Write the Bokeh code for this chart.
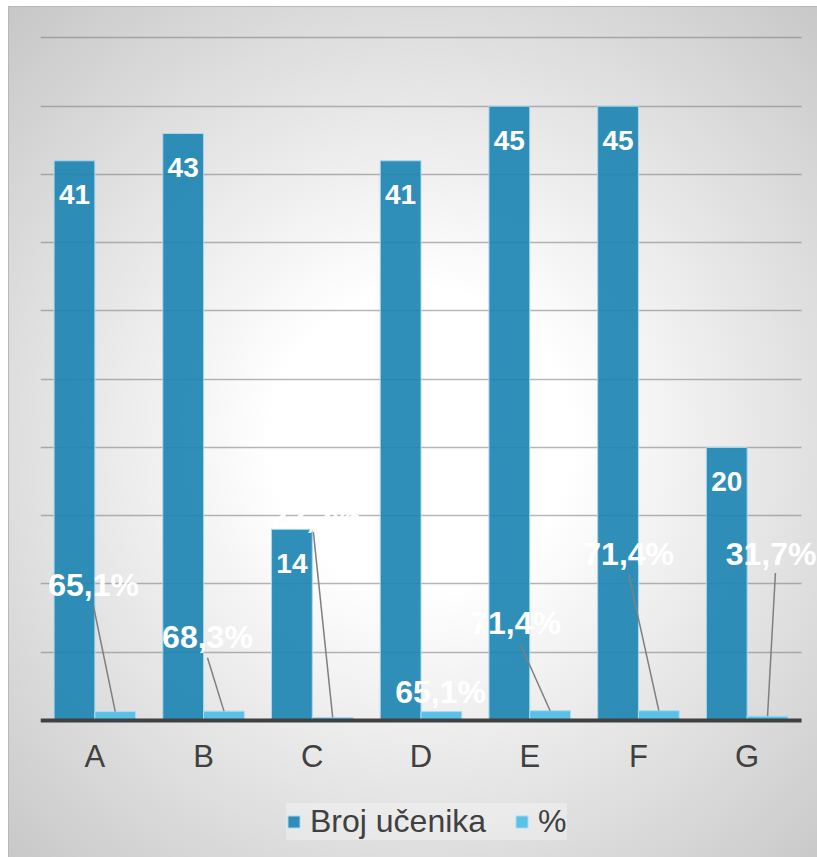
from bokeh.plotting import figure
from bokeh.models import (Range1d, FixedTicker, SingleIntervalTicker, ColumnDataSource,
                          Legend, LegendItem)
from bokeh.core.properties import value
from bokeh.transform import dodge
from bokeh.embed import file_html
from bokeh.resources import INLINE

# ---------------- data ----------------
categories = ["A", "B", "C", "D", "E", "F", "G"]
broj_ucenika = [41, 43, 14, 41, 45, 45, 20]
postotak = [0.651, 0.683, 0.222, 0.651, 0.714, 0.714, 0.317]
postotak_labels = ["65,1%", "68,3%", "22,2%", "65,1%", "71,4%", "71,4%", "31,7%"]

# manual label placement of the % labels (offset from category centre, value units)
pct_label_dx = [-0.012, 0.036, 0.03, 0.18, -0.13, -0.09, 0.22]
pct_label_y = [9.9, 6.15, 14.9, 2.1, 7.17, 12.2, 12.2]
leader_dx = [-0.012, 0.036, 0.01, None, -0.085, -0.09, 0.26]
leader_y = [8.35, 4.6, 13.8, None, 5.56, 10.7, 10.8]

DARK = "#1E86B3"
LIGHT = "#5BC0E6"
FONT = value("Liberation Sans")
BAR_W = 0.375
N = len(categories)

xc = [i + 0.5 for i in range(N)]
src = ColumnDataSource(dict(
    xc=xc, broj=broj_ucenika, pct=postotak,
    broj_txt=[str(v) for v in broj_ucenika],
    pct_txt=postotak_labels,
    lx=[c + d for c, d in zip(xc, pct_label_dx)],
    ly=pct_label_y,
))

lead_idx = [i for i, d in enumerate(leader_dx) if d is not None]
lead_src = ColumnDataSource(dict(
    x0=[xc[i] + leader_dx[i] for i in lead_idx],
    y0=[leader_y[i] for i in lead_idx],
    x1=[xc[i] + BAR_W / 2 for i in lead_idx],
    y1=[postotak[i] for i in lead_idx],
))

p = figure(width=808, height=850, output_backend="svg", toolbar_location=None,
           x_range=Range1d(0, N + 0.147), y_range=Range1d(-10.04, 50.4),
           min_border_left=31, min_border_right=0, min_border_top=25,
           min_border_bottom=0)

p.background_fill_alpha = 0
p.border_fill_alpha = 0
p.outline_line_color = None
p.styles = {
    "margin-left": "9px",
    "margin-top": "7px",
    "outline": "1px solid #b8b8b8",
    "background": "radial-gradient(circle at 51% 51%, #ffffff 0px, #ffffff 150px, #c4c4c4 620px)",
}

# grid
p.xgrid.visible = False
p.yaxis.visible = False
p.ygrid.ticker = SingleIntervalTicker(interval=5)
p.ygrid.bounds = (0, 50)
p.ygrid.cross_bounds = (0, N)
p.ygrid.grid_line_color = "#7a7a7a"
p.ygrid.grid_line_alpha = 0.55
p.ygrid.grid_line_width = 1.5

# x axis (drawn at value 0 inside the frame)
p.xaxis.fixed_location = 0
p.xaxis.bounds = (0, N)
p.xaxis.ticker = FixedTicker(ticks=xc)
p.xaxis.major_label_overrides = {x: c for x, c in zip(xc, categories)}
p.xaxis.major_tick_out = 0
p.xaxis.major_tick_in = 0
p.xaxis.minor_tick_out = 0
p.xaxis.minor_tick_in = 0
p.xaxis.axis_line_color = "#404040"
p.xaxis.axis_line_width = 4
p.xaxis.major_label_standoff = 19
p.xaxis.major_label_text_font = "Liberation Sans"
p.xaxis.major_label_text_font_size = "31px"
p.xaxis.major_label_text_color = "#404040"

# bars
r1 = p.vbar(x=dodge("xc", -BAR_W / 2), top="broj", width=BAR_W, source=src,
            fill_color=DARK, fill_alpha=0.92, line_color="#A8D8EE", line_width=1)
r2 = p.vbar(x=dodge("xc", BAR_W / 2), top="pct", width=BAR_W, source=src,
            fill_color=LIGHT, fill_alpha=1.0, line_color="#A8DDF2", line_width=1)

# value labels inside bars
p.text(x=dodge("xc", -BAR_W / 2), y="broj", text="broj_txt", source=src,
       text_font=FONT, text_font_style="bold", text_font_size="28px",
       text_color="white", text_align="center", text_baseline="middle",
       y_offset=34)

# leader lines
p.segment(x0="x0", y0="y0", x1="x1", y1="y1", source=lead_src,
          line_color="#7f7f7f", line_width=1.5)

# % labels
p.text(x="lx", y="ly", text="pct_txt", source=src,
       text_font=FONT, text_font_style="bold", text_font_size="32px",
       text_color="white", text_align="center", text_baseline="middle")

legend = Legend(items=[LegendItem(label="Broj učenika", renderers=[r1]),
                       LegendItem(label="%", renderers=[r2])],
                orientation="horizontal", location=(246, 17))
legend.label_text_font = "Liberation Sans"
legend.label_text_font_size = "32px"
legend.label_text_color = "#404040"
legend.label_height = 32
legend.glyph_width = 15
legend.glyph_height = 15
legend.label_standoff = 9
legend.spacing = 28
legend.padding = 10
legend.margin = 0
legend.background_fill_color = "#ffffff"
legend.background_fill_alpha = 0.3
legend.border_line_color = None
p.add_layout(legend, "center")

open("out.html", "w").write(file_html(p, INLINE))
